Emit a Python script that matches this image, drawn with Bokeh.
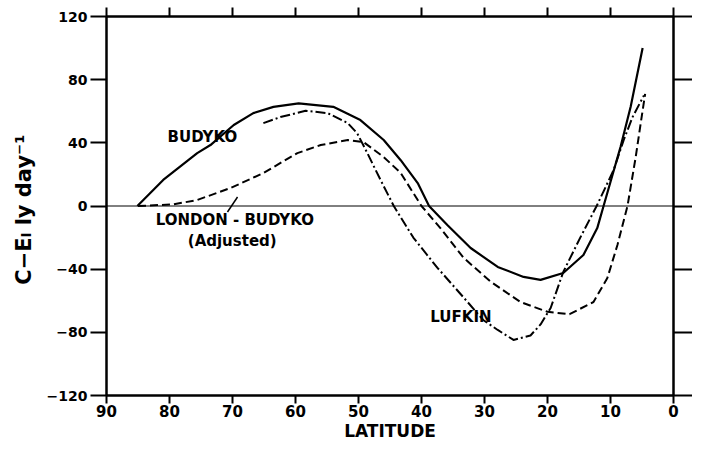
import numpy as np
from bokeh.plotting import figure
from bokeh.models import Range1d, LinearAxis, FixedTicker, Span, Label
from bokeh.embed import file_html
from bokeh.resources import INLINE

# ---------------- data ----------------
x_ticks = [90, 80, 70, 60, 50, 40, 30, 20, 10, 0]
y_ticks = [-120, -80, -40, 0, 40, 80, 120]

budyko_lat = [85.1, 81.0, 75.6, 73.5, 69.8, 66.7, 63.5, 59.5, 54.0, 49.7, 46.0, 43.3,
              40.6, 38.8, 35.9, 32.2, 27.9, 23.8, 21.1, 17.5, 14.3, 12.1, 11.1, 8.4, 6.8, 4.9]
budyko_val = [0, 16.5, 33.5, 38.6, 51.3, 58.8, 62.8, 65.0, 62.8, 54.4, 41.8, 29.0,
              14.5, 0, -12.0, -26.6, -38.6, -44.9, -46.8, -42.4, -31.0, -14.0, 0, 37.5, 62.8, 100.0]

london_lat = [85.0, 79.4, 75.6, 70.3, 65.1, 59.7, 56.0, 51.7, 49.2, 46.0, 43.3, 41.3,
              40.0, 37.0, 33.3, 29.0, 24.3, 20.0, 16.5, 12.7, 10.5, 8.9, 7.3, 6.0, 5.2, 4.5]
london_val = [0, 1.0, 3.8, 11.4, 20.9, 33.5, 38.6, 41.8, 40.5, 31.0, 20.9, 8.2,
              0, -14.0, -32.9, -48.0, -60.8, -67.0, -68.5, -60.8, -45.6, -24.7, 0, 31.0, 52.5, 71.0]

lufkin_lat = [65.1, 62.4, 58.4, 54.9, 51.7, 50.2, 48.6, 46.5, 44.4, 41.3, 37.5, 33.3,
              30.2, 27.9, 25.4, 22.7, 21.1, 19.5, 17.5, 14.8, 12.2, 9.5, 7.9, 6.5, 4.7]
lufkin_val = [52.5, 56.3, 60.3, 58.8, 52.5, 46.0, 33.5, 16.5, 0, -20.0, -39.0, -58.0,
              -72.2, -78.5, -84.8, -82.0, -75.0, -64.6, -41.8, -20.0, 0, 22.8, 41.8, 56.3, 70.0]

leader_lat = [70.8, 69.2]
leader_val = [-3.8, 5.7]

curve_label_text = ["BUDYKO", "LONDON - BUDYKO", "(Adjusted)", "LUFKIN"]
curve_label_lat = [80.3, 82.2, 77.1, 38.6]
curve_label_val = [43.4, -8.9, -22.0, -70.6]

FONT = "DejaVu Sans"

p = figure(width=692, height=443,
           x_range=Range1d(90, 0), y_range=Range1d(-120, 120),
           output_backend="svg", toolbar_location=None,
           min_border_left=106, min_border_right=19,
           min_border_top=16, min_border_bottom=48)
p.background_fill_color = "white"
p.border_fill_color = "white"
p.outline_line_color = "black"
p.outline_line_width = 2
p.xgrid.visible = False
p.ygrid.visible = False


def style_axis(ax, ticks, tick_out, show_labels, size="15px"):
    ax.ticker = FixedTicker(ticks=ticks)
    ax.axis_line_width = 2
    ax.axis_line_color = "black"
    ax.major_tick_line_width = 2
    ax.major_tick_line_color = "black"
    ax.major_tick_out = tick_out
    ax.major_tick_in = 0
    ax.minor_tick_out = 0
    ax.minor_tick_in = 0
    ax.minor_tick_line_color = None
    ax.major_label_text_font = FONT
    ax.major_label_text_font_style = "bold"
    ax.major_label_text_color = "black"
    if show_labels:
        ax.major_label_text_font_size = size
    else:
        ax.major_label_text_font_size = "0px"
        ax.major_label_standoff = 0
        ax.major_label_overrides = {t: "" for t in ticks}


xb = p.xaxis[0]
yl = p.yaxis[0]
style_axis(xb, x_ticks, 8, True, "15px")
xb.major_label_standoff = 1
xb.axis_label = "LATITUDE"
xb.axis_label_text_font = FONT
xb.axis_label_text_font_size = "17px"
xb.axis_label_text_font_style = "bold"
xb.axis_label_text_color = "black"
xb.axis_label_standoff = 1

style_axis(yl, y_ticks, 16, True, "14px")
yl.major_label_standoff = 3
yl.axis_label = "C\u2212E\u2097  ly day\u207b\u00b9"
yl.axis_label_text_font = FONT
yl.axis_label_text_font_size = "21px"
yl.axis_label_text_font_style = "bold"
yl.axis_label_text_color = "black"
yl.axis_label_standoff = 8

xt = LinearAxis()
style_axis(xt, x_ticks, 9, False)
xt.major_label_standoff = 7
p.add_layout(xt, "above")
yr = LinearAxis()
style_axis(yr, y_ticks, 19, False)
p.add_layout(yr, "right")

p.add_layout(Span(location=0, dimension="width", line_color="black", line_width=1))

p.line(budyko_lat, budyko_val, line_color="black", line_width=2.2, line_join="round")
p.line(london_lat, london_val, line_color="black", line_width=2, line_dash="8 4", line_join="round")
p.line(lufkin_lat, lufkin_val, line_color="black", line_width=2, line_dash="10 3 2 3", line_join="round")
p.line(leader_lat, leader_val, line_color="black", line_width=1.5)

for t, x, y in zip(curve_label_text, curve_label_lat, curve_label_val):
    p.add_layout(Label(x=x, y=y, text=t, text_font=FONT, text_font_size="15px",
                       text_font_style="bold",
                       text_align="left", text_baseline="middle", text_color="black"))

open("out.html", "w").write(file_html(p, INLINE))
